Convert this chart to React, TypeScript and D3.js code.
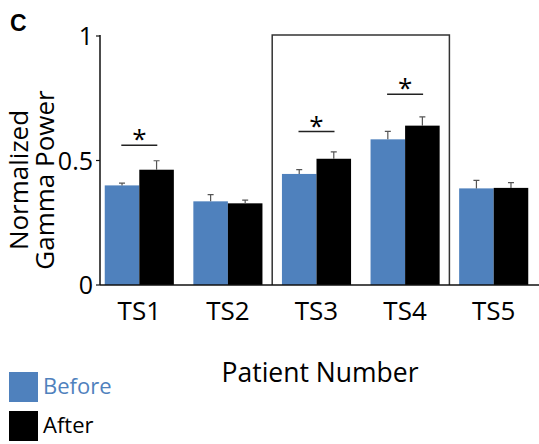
import React, { useEffect, useRef } from "react";
import * as d3 from "d3";

const categories = ["TS1", "TS2", "TS3", "TS4", "TS5"];
const series = ["Before", "After"];
const beforeMean = [0.4, 0.336, 0.446, 0.585, 0.388];
const beforeErr = [0.009, 0.027, 0.017, 0.032, 0.032];
const afterMean = [0.463, 0.328, 0.507, 0.64, 0.39];
const afterErr = [0.036, 0.013, 0.028, 0.035, 0.021];
const sigGroups = ["TS1", "TS3", "TS4"];
const sigLevels = [0.561, 0.616, 0.766];
const boxedGroups = ["TS3", "TS4"];
const yTicks = [0, 0.5, 1];
const colors = ["#4f81bd", "#000000"];

const App = () => {
  const ref = useRef<SVGSVGElement>(null);

  useEffect(() => {
    const svg = d3.select(ref.current);
    svg.selectAll("*").remove();

    const font = "'Open Sans', 'Noto Sans', sans-serif";
    const axisX = 100;

    const y = d3.scaleLinear().domain([0, 1]).range([285, 36]);
    const x = d3
      .scaleBand()
      .domain(categories)
      .range([95, 538])
      .paddingInner(0.22)
      .paddingOuter(0.11);
    const xs = d3.scaleBand().domain(series).range([0, x.bandwidth()]);
    const gap = (x.step() - x.bandwidth()) / 2;

    // bars
    const rows = categories.map((c, i) => ({
      c,
      vals: [
        { s: "Before", v: beforeMean[i], e: beforeErr[i] },
        { s: "After", v: afterMean[i], e: afterErr[i] },
      ],
    }));

    const g = svg
      .selectAll("g.grp")
      .data(rows)
      .join("g")
      .attr("class", "grp")
      .attr("transform", (d) => `translate(${x(d.c)},0)`);

    g.selectAll("rect")
      .data((d) => d.vals)
      .join("rect")
      .attr("x", (d) => xs(d.s)!)
      .attr("width", xs.bandwidth())
      .attr("y", (d) => y(d.v))
      .attr("height", (d) => y(0) - y(d.v))
      .attr("fill", (d, i) => colors[i]);

    // error bars (upper only)
    g.selectAll("path.err")
      .data((d) => d.vals)
      .join("path")
      .attr("class", "err")
      .attr("fill", "none")
      .attr("stroke", "#555")
      .attr("stroke-width", 1.2)
      .attr("d", (d) => {
        const cx = xs(d.s)! + xs.bandwidth() / 2;
        return `M${cx},${y(d.v)}V${y(d.v + d.e)}M${cx - 3},${y(d.v + d.e)}H${cx + 3}`;
      });

    // highlight box
    const bx0 = x(boxedGroups[0])! - gap;
    const bx1 = x(boxedGroups[boxedGroups.length - 1])! + x.bandwidth() + gap;
    svg
      .append("path")
      .attr("fill", "none")
      .attr("stroke", "#333")
      .attr("stroke-width", 1.5)
      .attr("d", `M${bx0},${y(0)}V${y(1) - 1}H${bx1}V${y(0)}`);

    // significance markers
    sigGroups.forEach((c, i) => {
      const cx = x(c)! + x.bandwidth() / 2;
      svg
        .append("line")
        .attr("x1", cx - 18)
        .attr("x2", cx + 18)
        .attr("y1", y(sigLevels[i]))
        .attr("y2", y(sigLevels[i]))
        .attr("stroke", "#222")
        .attr("stroke-width", 1.5);
      svg
        .append("text")
        .attr("x", cx)
        .attr("y", y(sigLevels[i]) + 3)
        .attr("text-anchor", "middle")
        .attr("font-family", font)
        .attr("font-size", 26)
        .text("*");
    });

    // axes
    svg
      .append("line")
      .attr("x1", axisX)
      .attr("x2", 539)
      .attr("y1", y(0))
      .attr("y2", y(0))
      .attr("stroke", "#111")
      .attr("stroke-width", 1.5);
    svg
      .append("line")
      .attr("x1", axisX)
      .attr("x2", axisX)
      .attr("y1", y(0))
      .attr("y2", y(1) - 1)
      .attr("stroke", "#111")
      .attr("stroke-width", 1.5);

    svg
      .selectAll("line.ytick")
      .data(yTicks)
      .join("line")
      .attr("class", "ytick")
      .attr("x1", axisX - 4)
      .attr("x2", axisX)
      .attr("y1", (d) => y(d))
      .attr("y2", (d) => y(d))
      .attr("stroke", "#111")
      .attr("stroke-width", 1.2);

    svg
      .selectAll("text.ylab")
      .data(yTicks)
      .join("text")
      .attr("class", "ylab")
      .attr("x", axisX - 7)
      .attr("y", (d) => y(d) + 9)
      .attr("text-anchor", "end")
      .attr("font-family", font)
      .attr("font-size", 25)
      .text((d) => d3.format("~g")(d));

    svg
      .selectAll("text.xlab")
      .data(categories)
      .join("text")
      .attr("class", "xlab")
      .attr("x", (d) => x(d)! + x.bandwidth() / 2)
      .attr("y", 320)
      .attr("text-anchor", "middle")
      .attr("font-family", font)
      .attr("font-size", 26)
      .text((d) => d);

    // axis titles
    svg
      .append("text")
      .attr("x", 320)
      .attr("y", 382)
      .attr("text-anchor", "middle")
      .attr("font-family", font)
      .attr("font-size", 26.5)
      .text("Patient Number");

    const yt = svg
      .append("text")
      .attr("transform", "translate(0,180) rotate(-90)")
      .attr("text-anchor", "middle")
      .attr("font-family", font)
      .attr("font-size", 26);
    yt.append("tspan").attr("x", 0).attr("y", 28).text("Normalized");
    yt.append("tspan").attr("x", 0).attr("y", 54).text("Gamma Power");

    // panel letter
    svg
      .append("text")
      .attr("x", 10)
      .attr("y", 31)
      .attr("font-family", "'Liberation Sans', Arial, sans-serif")
      .attr("font-weight", "bold")
      .attr("font-size", 23)
      .text("C");

    // legend
    const leg = svg
      .selectAll("g.leg")
      .data(series)
      .join("g")
      .attr("class", "leg")
      .attr("transform", (d, i) => `translate(9,${372 + i * 39})`);
    leg
      .append("rect")
      .attr("width", 29)
      .attr("height", 30)
      .attr("fill", (d, i) => colors[i]);
    leg
      .append("text")
      .attr("x", 34)
      .attr("y", 22)
      .attr("font-family", font)
      .attr("font-size", 22)
      .attr("fill", (d, i) => colors[i])
      .text((d) => d);
  }, []);

  return (
    <svg
      ref={ref}
      width={539}
      height={444}
      style={{ position: "absolute", left: 0, top: 0, background: "#fff" }}
    />
  );
};

export default App;
